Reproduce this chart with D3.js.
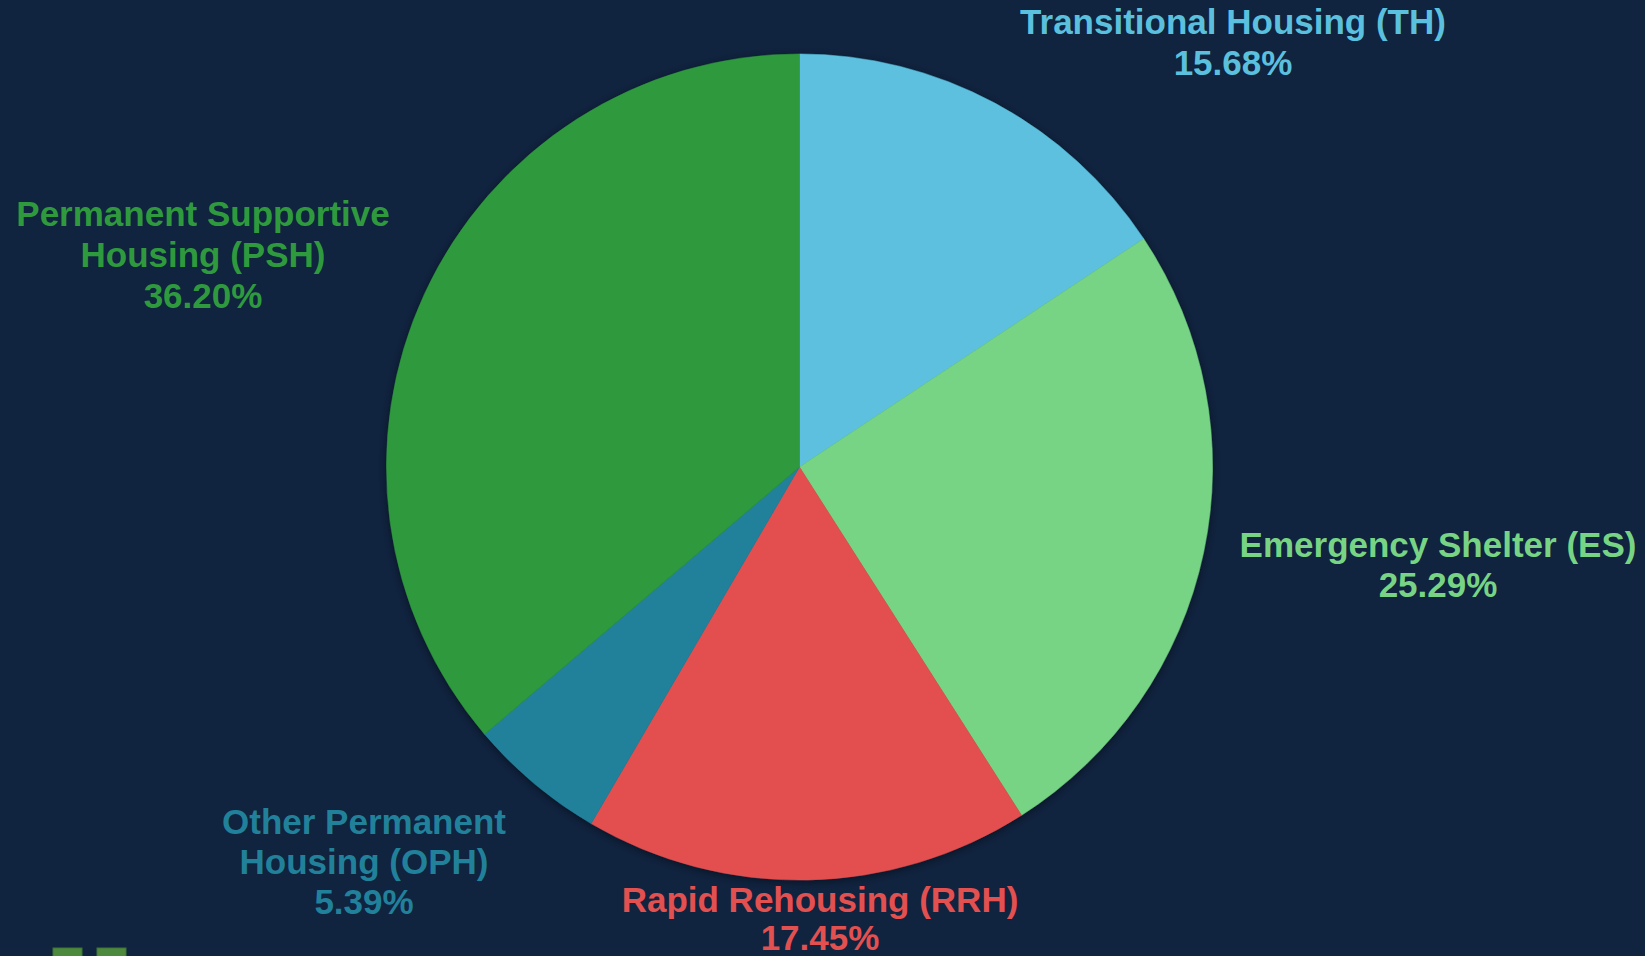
<!DOCTYPE html>
<html>
<head>
<meta charset="utf-8">
<script src="https://cdn.jsdelivr.net/npm/d3@7"></script>
<style>
  html, body { margin: 0; padding: 0; background: #10233f; overflow: hidden; }
  svg { display: block; }
</style>
</head>
<body>
<script>
// ---- Data ----
const categories = [
  "Transitional Housing (TH)",
  "Emergency Shelter (ES)",
  "Rapid Rehousing (RRH)",
  "Other Permanent Housing (OPH)",
  "Permanent Supportive Housing (PSH)"
];
const shares = [15.68, 25.29, 17.45, 5.39, 36.20];
const colors = ["#5bc0de", "#77d484", "#e35050", "#22819a", "#2f9a3d"];
// label text lines (as wrapped in the reference)
const labelLines = [
  ["Transitional Housing (TH)"],
  ["Emergency Shelter (ES)"],
  ["Rapid Rehousing (RRH)"],
  ["Other Permanent", "Housing (OPH)"],
  ["Permanent Supportive", "Housing (PSH)"]
];

// ---- Layout (positions/styles) ----
const W = 1645, H = 956;
const cx = 799.5, cy = 467, R = 413;
// label anchor: center x and baseline of first line, plus line spacing
const labelLayout = [
  { x: 1233, y: 34,  gap: 41 },
  { x: 1438, y: 557, gap: 40 },
  { x: 820,  y: 912, gap: 38 },
  { x: 364,  y: 834, gap: 40 },
  { x: 203,  y: 226, gap: 41 }
];

const svg = d3.select("body").append("svg")
  .attr("width", W).attr("height", H);

svg.append("rect").attr("width", W).attr("height", H).attr("fill", "#10233f");

const defs = svg.append("defs");
const f = defs.append("filter").attr("id", "shadow")
  .attr("x", "-10%").attr("y", "-10%").attr("width", "120%").attr("height", "120%");
f.append("feDropShadow").attr("dx", 0).attr("dy", 2)
  .attr("stdDeviation", 4).attr("flood-color", "#000").attr("flood-opacity", 0.45);

const data = categories.map((c, i) => ({ cat: c, value: shares[i], color: colors[i], i }));

const pie = d3.pie().value(d => d.value).sort(null)
  .startAngle(0).endAngle(2 * Math.PI);
const arc = d3.arc().innerRadius(0).outerRadius(R);

const g = svg.append("g").attr("transform", `translate(${cx},${cy})`);
g.append("g").attr("filter", "url(#shadow)")
  .selectAll("path").data(pie(data)).join("path")
  .attr("d", arc)
  .attr("fill", d => d.data.color)
  .attr("stroke", d => d.data.color)
  .attr("stroke-width", 0.5);

// labels
const fmt = d3.format(".2f");
const lbl = svg.append("g")
  .attr("font-family", "'Liberation Sans', Arial, Helvetica, sans-serif")
  .attr("font-weight", "bold")
  .attr("font-size", 35)
  .attr("text-anchor", "middle");

data.forEach((d, i) => {
  const L = labelLayout[i];
  const lines = labelLines[i].concat([fmt(d.value) + "%"]);
  const t = lbl.append("text").attr("fill", d.color);
  lines.forEach((s, k) => {
    t.append("tspan").attr("x", L.x).attr("y", L.y + k * L.gap).text(s);
  });
});

// partially visible decorative squares at bottom-left
const deco = [53, 97];
svg.append("g").selectAll("rect").data(deco).join("rect")
  .attr("x", d => d).attr("y", 948).attr("width", 29).attr("height", 12)
  .attr("fill", "#4e8a3e").attr("stroke", "#3f7434").attr("stroke-width", 1);
</script>
</body>
</html>
